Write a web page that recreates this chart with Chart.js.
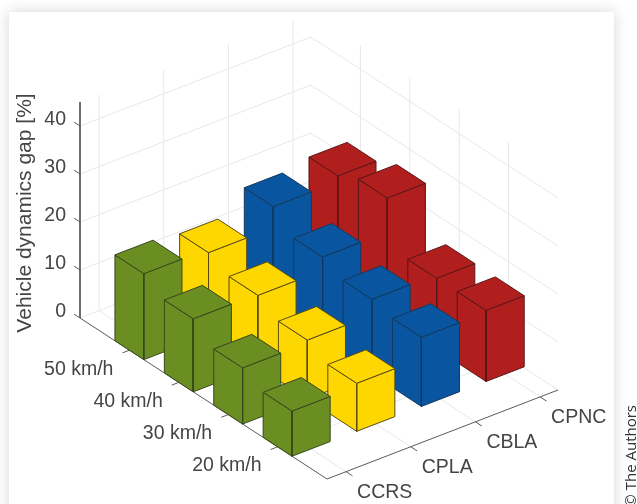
<!DOCTYPE html>
<html>
<head>
<meta charset="utf-8">
<script src="https://cdn.jsdelivr.net/npm/chart.js@4"></script>
<style>
html,body{margin:0;padding:0;background:#fff;width:637px;height:504px;overflow:hidden}
#card{position:absolute;left:9px;top:12px;width:605px;height:520px;background:#fff;box-shadow:0 0 14px rgba(0,0,0,.17)}
canvas{position:absolute;left:0;top:0}
</style>
</head>
<body>
<div id="card"></div>
<canvas id="c" width="637" height="504"></canvas>
<script>
// ---- data ----
const methods = ['CCRS', 'CPLA', 'CBLA', 'CPNC'];
const speeds = ['20 km/h', '30 km/h', '40 km/h', '50 km/h'];
const zTicks = [0, 10, 20, 30, 40];
const ccrs = [9.4, 11.7, 15.2, 17.9];
const cpla = [10.0, 12.3, 14.9, 17.1];
const cbla = [14.4, 15.6, 17.7, 21.5];
const cpnc = [14.8, 14.8, 24.8, 22.7];
const methodColors = ['#6b8e23', '#ffd700', '#0a559f', '#b01e1e'];
const edgeColors = ['#37471c', '#5a4c10', '#123a60', '#5a1616'];
const series = [ccrs, cpla, cbla, cpnc];
const yTitle = 'Vehicle dynamics gap [%]';

// ---- oblique 3-D projection onto the chart's x / y scales ----
const PX_PER_Z = 4.8, Z0_PX = 318;
const project = (u, v, z) => ({
  x: 327 + 231 * u - 247 * v,
  y: (Z0_PX - (479 - 89 * u - 161 * v)) / PX_PER_Z + z
});
const uOf = i => 0.0825 + 0.28 * i;
const vOf = j => 0.2 + 0.2 * j;
const BAR_U = 0.165, BAR_V = 0.117, Z_TOP = 45;

const lineSet = (pts, color, width) => ({
  data: pts, showLine: true, pointRadius: 0, borderColor: color, borderWidth: width,
  fill: false, clip: false, tension: 0
});
const faceSet = (pts, fill, edge) => ({
  data: pts.concat([pts[0]]), showLine: true, pointRadius: 0, borderColor: edge, borderWidth: 1,
  backgroundColor: fill, fill: 'shape', clip: false, tension: 0, borderJoinStyle: 'round'
});

const GRID = '#e7e7e7', AXIS = '#5a5a5a';
const back = []; // painted first to last
zTicks.forEach(z => {
  back.push(lineSet([project(0, 1, z), project(1, 1, z), project(1, 0, z)], GRID, 1));
});
methods.forEach((m, i) => {
  const u = uOf(i);
  back.push(lineSet([project(u, 0, 0), project(u, 1, 0), project(u, 1, Z_TOP)], GRID, 1));
});
speeds.forEach((s, j) => {
  const v = vOf(j);
  back.push(lineSet([project(0, v, 0), project(1, v, 0), project(1, v, Z_TOP)], GRID, 1));
});
back.push(lineSet([project(0, 1, Z_TOP), project(0, 1, 0), project(0, 0, 0), project(1, 0, 0)], AXIS, 1));
zTicks.forEach(z => back.push(lineSet([project(0, 1, z), project(0, 1.024, z)], AXIS, 1)));
methods.forEach((m, i) => back.push(lineSet([project(uOf(i), 0, 0), project(uOf(i), -0.026, 0)], AXIS, 1)));
speeds.forEach((s, j) => back.push(lineSet([project(0, vOf(j), 0), project(-0.03, vOf(j), 0)], AXIS, 1)));
const order = [];
methods.forEach((m, i) => speeds.forEach((s, j) => order.push([i, j])));
order.sort((a, b) => (b[0] * 0.28 + b[1] * 0.2) - (a[0] * 0.28 + a[1] * 0.2));
order.forEach(([i, j]) => {
  const h = series[i][j], fill = methodColors[i], edge = edgeColors[i];
  const u0 = uOf(i) - BAR_U / 2, u1 = u0 + BAR_U, v0 = vOf(j) - BAR_V / 2, v1 = v0 + BAR_V;
  back.push(faceSet([project(u0, v0, 0), project(u0, v1, 0), project(u0, v1, h), project(u0, v0, h)], fill, edge));
  back.push(faceSet([project(u0, v0, 0), project(u1, v0, 0), project(u1, v0, h), project(u0, v0, h)], fill, edge));
  back.push(faceSet([project(u0, v0, h), project(u1, v0, h), project(u1, v1, h), project(u0, v1, h)], fill, edge));
});
const datasets = back.slice().reverse();

const TEXT = '#454545', FONT = '"Liberation Sans", Arial, sans-serif';
const textPlugin = {
  id: 'axisText',
  afterDraw(chart) {
    const {ctx, scales: {x, y}} = chart;
    const at = p => [x.getPixelForValue(p.x), y.getPixelForValue(p.y)];
    ctx.save();
    ctx.fillStyle = TEXT;
    ctx.font = '19.5px ' + FONT;
    ctx.textBaseline = 'middle';
    ctx.textAlign = 'right';
    speeds.forEach((s, j) => {
      const [px, py] = at(project(0, vOf(j), 0));
      ctx.fillText(s, px - 16, py + 19);
    });
    ctx.textAlign = 'left';
    methods.forEach((m, i) => {
      const [px, py] = at(project(uOf(i), 0, 0));
      ctx.fillText(m, px + 11, py + 21);
    });
    ctx.restore();
    ctx.save();
    ctx.translate(25, 213);
    ctx.rotate(-Math.PI / 2);
    ctx.fillStyle = TEXT;
    ctx.font = '21px ' + FONT;
    ctx.textAlign = 'center';
    ctx.textBaseline = 'middle';
    ctx.fillText(yTitle, 0, 0);
    ctx.restore();
    ctx.save();
    ctx.translate(637 - 5, 405);
    ctx.rotate(-Math.PI / 2);
    ctx.fillStyle = '#333';
    ctx.font = '15px "Open Sans", sans-serif';
    ctx.textAlign = 'right';
    ctx.textBaseline = 'middle';
    ctx.fillText('\u00A9 The Authors', 0, 0);
    ctx.restore();
  }
};

new Chart(document.getElementById('c'), {
  type: 'scatter',
  data: {datasets},
  plugins: [textPlugin],
  options: {
    responsive: false,
    animation: false,
    layout: {padding: 0},
    plugins: {legend: {display: false}, tooltip: {enabled: false}, title: {display: false}},
    scales: {
      x: {type: 'linear', display: false, min: 80, max: 637},
      y: {
        type: 'linear',
        position: 'left',
        min: (Z0_PX - 504) / PX_PER_Z,
        max: Z0_PX / PX_PER_Z,
        afterFit: s => { s.width = 80; s.paddingTop = 0; s.paddingBottom = 0; },
        afterBuildTicks: s => { s.ticks = zTicks.map(value => ({value})); },
        border: {display: false},
        grid: {display: false, drawTicks: false},
        ticks: {autoSkip: false, padding: 14, labelOffset: -6, color: TEXT, font: {size: 19.5, family: FONT}}
      }
    }
  }
});
</script>
</body>
</html>
